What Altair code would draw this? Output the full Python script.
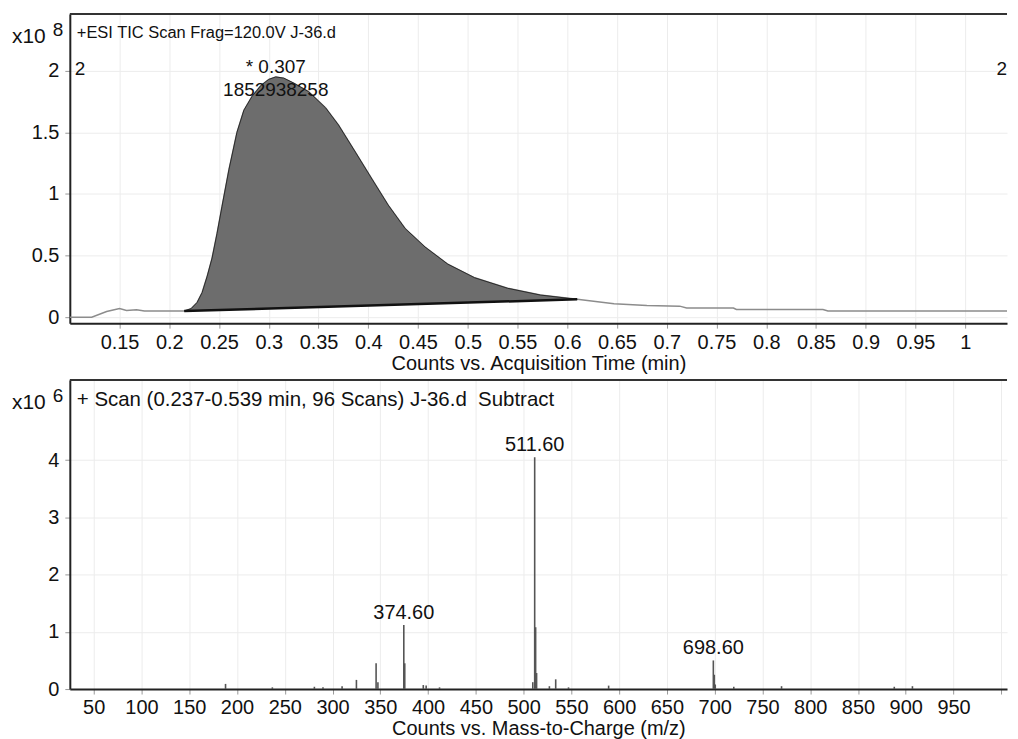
import altair as alt
import pandas as pd

FONT = "Liberation Sans"

# ---------------- TIC chromatogram (x10^8 counts) ----------------
tic_time = [0.100, 0.122, 0.137, 0.150, 0.157, 0.167, 0.175, 0.200, 0.215,
            0.222, 0.228, 0.233, 0.238, 0.243, 0.248, 0.253, 0.260, 0.268,
            0.275, 0.283, 0.292, 0.300, 0.307, 0.315, 0.325, 0.340, 0.357,
            0.370, 0.387, 0.403, 0.420, 0.437, 0.457, 0.480, 0.507, 0.540,
            0.573, 0.610, 0.647, 0.680, 0.713, 0.720, 0.767, 0.770, 0.857,
            0.862, 1.042]
tic_int = [0.00, 0.00, 0.047, 0.07, 0.055, 0.06, 0.05, 0.05, 0.05,
           0.07, 0.12, 0.20, 0.33, 0.48, 0.68, 0.90, 1.20, 1.50,
           1.68, 1.79, 1.88, 1.93, 1.95, 1.94, 1.90, 1.83, 1.70,
           1.56, 1.34, 1.13, 0.91, 0.72, 0.57, 0.43, 0.32, 0.235,
           0.18, 0.145, 0.11, 0.096, 0.09, 0.075, 0.075, 0.063, 0.063,
           0.05, 0.05]
shade_start, shade_end = 0.215, 0.610
base_start, base_end = 0.05, 0.145
peak_time = 0.307
peak_text = ["* 0.307", "1852938258"]
tic_xticks = [0.15, 0.2, 0.25, 0.3, 0.35, 0.4, 0.45, 0.5, 0.55, 0.6, 0.65,
              0.7, 0.75, 0.8, 0.85, 0.9, 0.95, 1.0]
tic_yticks = [0, 0.5, 1, 1.5, 2]

# ---------------- Mass spectrum (x10^6 counts) ----------------
ms_mz = [188.0, 237.0, 281.0, 290.0, 310.0, 325.0, 345.6, 347.5, 374.6,
         375.6, 395.0, 398.0, 412.0, 509.6, 511.6, 512.6, 513.6, 527.0,
         533.6, 547.0, 589.0, 698.6, 699.6, 700.6, 720.0, 770.0, 888.0,
         907.0]
ms_int = [0.09, 0.03, 0.04, 0.03, 0.05, 0.16, 0.45, 0.12, 1.12,
          0.45, 0.07, 0.06, 0.03, 0.12, 4.05, 1.08, 0.28, 0.05,
          0.17, 0.03, 0.06, 0.50, 0.25, 0.08, 0.04, 0.05, 0.04,
          0.05]
lab_mz = [374.6, 511.6, 698.6]
lab_int = [1.12, 4.05, 0.50]
lab_text = ["374.60", "511.60", "698.60"]
ms_xticks = [50, 100, 150, 200, 250, 300, 350, 400, 450, 500, 550, 600, 650,
             700, 750, 800, 850, 900, 950, 1000]
ms_yticks = [0, 1, 2, 3, 4]

W = 940
H_TOP = 310
H_BOT = 310

tic = pd.DataFrame({"t": tic_time, "v": tic_int})
base_df = pd.DataFrame({"t": [shade_start, shade_end], "v": [base_start, base_end]})
ms = pd.DataFrame({"mz": ms_mz, "v": ms_int})
lab = pd.DataFrame({"mz": lab_mz, "v": lab_int, "txt": lab_text})
one = pd.DataFrame({"a": [0]})

xt = alt.X("t:Q", scale=alt.Scale(domain=[0.1, 1.042], nice=False, zero=False),
           axis=alt.Axis(values=tic_xticks, format="~g",
                         title="Counts vs. Acquisition Time (min)"))
yt = alt.Y("v:Q", scale=alt.Scale(domain=[-0.048, 2.46], nice=False, zero=False),
           axis=alt.Axis(values=tic_yticks, format="~g", title=None))

tic_line = alt.Chart(tic).mark_line(color="#8c8c8c", strokeWidth=1.5).encode(x=xt, y=yt)

slope = (base_end - base_start) / (shade_end - shade_start)
tic_area = (
    alt.Chart(tic)
    .transform_filter((alt.datum.t >= shade_start) & (alt.datum.t <= shade_end))
    .transform_calculate(base=f"{base_start} + (datum.t - {shade_start}) * {slope}")
    .mark_area(color="#6d6d6d", opacity=1, line={"color": "#2a2a2a", "strokeWidth": 1})
    .encode(x=xt, y=yt, y2="base:Q")
)
tic_base = alt.Chart(base_df).mark_line(color="#111111", strokeWidth=2.5).encode(x=xt, y=yt)

peak1 = alt.Chart(one).mark_text(font=FONT, fontSize=19, align="center", baseline="alphabetic", color="#111").encode(
    x=alt.datum(peak_time, type="quantitative"), y=alt.value(59), text=alt.value(peak_text[0]))
peak2 = alt.Chart(one).mark_text(font=FONT, fontSize=19, align="center", baseline="alphabetic", color="#111").encode(
    x=alt.datum(peak_time, type="quantitative"), y=alt.value(82), text=alt.value(peak_text[1]))


def frame(title, exp_txt, pos_y, tsize):
    top_rule = alt.Chart(one).mark_rule(color="#333", strokeWidth=2).encode(
        x=alt.value(0), x2=alt.value(W), y=alt.value(0))
    ttl = alt.Chart(one).mark_text(font=FONT, fontSize=tsize, align="left", baseline="alphabetic", color="#111").encode(
        x=alt.value(7), y=alt.value(pos_y), text=alt.value(title))
    x10 = alt.Chart(one).mark_text(font=FONT, fontSize=21, align="left", baseline="alphabetic", color="#111").encode(
        x=alt.value(-58), y=alt.value(29), text=alt.value("x10"))
    ex = alt.Chart(one).mark_text(font=FONT, fontSize=19, align="left", baseline="alphabetic", color="#111").encode(
        x=alt.value(-17), y=alt.value(22), text=alt.value(exp_txt))
    return [top_rule, ttl, x10, ex]


corner = alt.Chart(one).mark_text(font=FONT, fontSize=19, align="left", baseline="alphabetic", color="#111").encode(
    x=alt.value(5), y=alt.value(61), text=alt.value("2"))
corner_r = alt.Chart(one).mark_text(font=FONT, fontSize=19, align="right", baseline="alphabetic", color="#111").encode(
    x=alt.value(W), y=alt.value(61), text=alt.value("2"))

top = alt.layer(tic_line, tic_area, tic_base, peak1, peak2, corner, corner_r,
                *frame("+ESI TIC Scan Frag=120.0V J-36.d", "8", 24, 16.5)).properties(width=W, height=H_TOP)

xm = alt.X("mz:Q", scale=alt.Scale(domain=[25, 1006], nice=False, zero=False),
           axis=alt.Axis(values=ms_xticks, labelExpr="datum.value >= 1000 ? '' : datum.label",
                         title="Counts vs. Mass-to-Charge (m/z)"))
ym = alt.Y("v:Q", scale=alt.Scale(domain=[0, 5.4], nice=False),
           axis=alt.Axis(values=ms_yticks, title=None))

ms_rules = alt.Chart(ms).mark_rule(color="#555555", strokeWidth=1.6).encode(x=xm, y=ym, y2=alt.datum(0))
ms_labels = alt.Chart(lab).mark_text(font=FONT, fontSize=20, align="center", baseline="alphabetic", dy=-6,
                                     color="#111").encode(x=xm, y=ym, text="txt:N")

bottom = alt.layer(ms_rules, ms_labels,
                   *frame("+ Scan (0.237-0.539 min, 96 Scans) J-36.d\u00a0\u00a0Subtract", "6", 26, 20.5)
                   ).properties(width=W, height=H_BOT)

chart = (
    alt.vconcat(top, bottom, spacing=6)
    .properties(padding={"left": 4, "top": 4, "right": 0, "bottom": 0}, background="white")
    .configure_view(stroke=None)
    .configure_axis(
        labelFont=FONT, titleFont=FONT, labelFontSize=20, titleFontSize=20,
        labelColor="#111", titleColor="#111", titleFontWeight="normal",
        domainColor="#222", domainWidth=2, tickColor="#999", tickSize=5,
        gridColor="#ececec", gridWidth=1, labelPadding=4, titlePadding=1,
    )
    .configure_axisY(labelPadding=6)
)

chart.save("out.html", embed_options={"renderer": "svg", "actions": False})
